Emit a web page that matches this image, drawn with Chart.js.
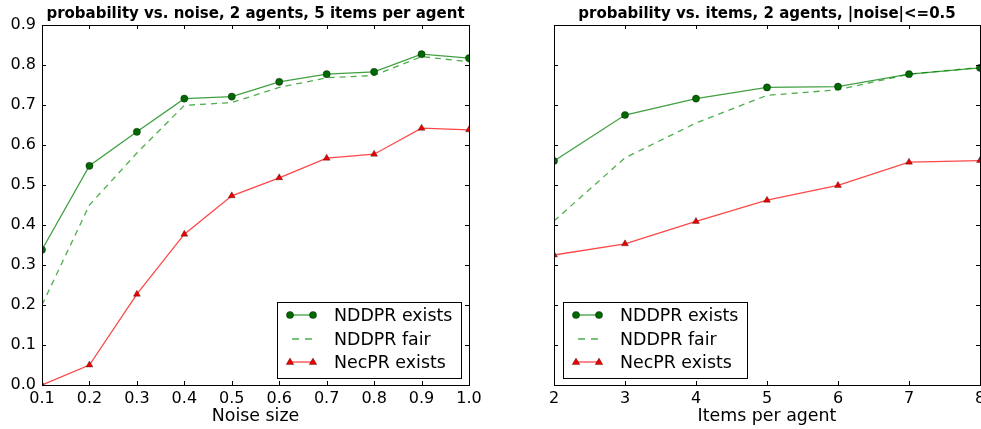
<!DOCTYPE html>
<html>
<head>
<meta charset="utf-8">
<script src="https://cdn.jsdelivr.net/npm/chart.js@4/dist/chart.umd.min.js"></script>
<style>
html,body{margin:0;padding:0;background:#fff;overflow:hidden;width:981px;height:429px;}
.wrap{position:absolute;top:0;height:429px;}
</style>
</head>
<body>
<div class="wrap" style="left:0;width:490px;"><canvas id="c1" width="490" height="429"></canvas></div>
<div class="wrap" style="left:490px;width:500px;"><canvas id="c2" width="500" height="429"></canvas></div>
<script>
// ---- data ----
const noiseSizes = [0.1,0.2,0.3,0.4,0.5,0.6,0.7,0.8,0.9,1.0];
const noiseNddprExists = [0.338,0.548,0.633,0.716,0.721,0.758,0.777,0.783,0.827,0.817];
const noiseNddprFair   = [0.200,0.450,0.580,0.699,0.706,0.744,0.768,0.774,0.821,0.808];
const noiseNecprExists = [0.000,0.050,0.227,0.377,0.473,0.518,0.567,0.577,0.642,0.638];

const itemsPerAgent = [2,3,4,5,6,7,8];
const itemsNddprExists = [0.560,0.675,0.716,0.744,0.746,0.777,0.793];
const itemsNddprFair   = [0.410,0.568,0.655,0.724,0.738,0.777,0.794];
const itemsNecprExists = [0.325,0.353,0.409,0.462,0.499,0.557,0.561];

const yTicks = [0.0,0.1,0.2,0.3,0.4,0.5,0.6,0.7,0.8,0.9];
const xTicksNoise = noiseSizes;
const xTicksItems = itemsPerAgent;

const seriesNames = ['NDDPR exists','NDDPR fair','NecPR exists'];
const leftTitle = 'probability vs. noise, 2 agents, 5 items per agent';
const rightTitle = 'probability vs. items, 2 agents, |noise|<=0.5';

const FONT = "'DejaVu Sans', 'Bitstream Vera Sans', sans-serif";

function pts(xs, ys){ return xs.map((x,i)=>({x:x,y:ys[i]})); }

function makeDatasets(xs, a, b, c){
  return [
    {label:seriesNames[0], data:pts(xs,a), borderColor:'rgba(0,128,0,0.75)', borderWidth:1.3,
     pointStyle:'circle', pointRadius:3.6, pointBackgroundColor:'#006a00', pointBorderColor:'rgba(0,0,0,0.6)', pointBorderWidth:0.6,
     tension:0, clip:0, fill:false},
    {label:seriesNames[1], data:pts(xs,b), borderColor:'rgba(0,140,0,0.7)', borderWidth:1.3, borderDash:[6,5],
     pointRadius:0, tension:0, clip:0, fill:false},
    {label:seriesNames[2], data:pts(xs,c), borderColor:'rgba(255,0,0,0.72)', borderWidth:1.3,
     pointStyle:'triangle', pointRadius:4, pointBackgroundColor:'#ee0000', pointBorderColor:'rgba(0,0,0,0.55)', pointBorderWidth:0.6,
     tension:0, clip:0, fill:false}
  ];
}

// frame, inward ticks, title and legend
function framePlugin(title, legendX){
  return {
    id:'frame',
    afterDraw(chart){
      const ctx = chart.ctx, a = chart.chartArea;
      const xs = chart.scales.x, ys = chart.scales.y;
      ctx.save();
      ctx.strokeStyle = '#000'; ctx.lineWidth = 1;
      ctx.strokeRect(Math.round(a.left)+0.5, Math.round(a.top)+0.5, Math.round(a.right-a.left), Math.round(a.bottom-a.top));
      const tl = 4;
      ctx.beginPath();
      xs.ticks.forEach(t=>{
        const px = Math.round(xs.getPixelForValue(t.value))+0.5;
        ctx.moveTo(px,a.top); ctx.lineTo(px,a.top+tl);
        ctx.moveTo(px,a.bottom); ctx.lineTo(px,a.bottom-tl);
      });
      ys.ticks.forEach(t=>{
        const py = Math.round(ys.getPixelForValue(t.value))+0.5;
        ctx.moveTo(a.left,py); ctx.lineTo(a.left+tl,py);
        ctx.moveTo(a.right,py); ctx.lineTo(a.right-tl,py);
      });
      ctx.stroke();
      // title
      ctx.fillStyle = '#000';
      ctx.font = 'bold 15px ' + FONT;
      ctx.textAlign = 'center'; ctx.textBaseline = 'middle';
      ctx.fillText(title, (a.left+a.right)/2, 14);
      // legend
      const bx = legendX, by = 302, bw = 184, bh = 76;
      ctx.fillStyle = '#fff';
      ctx.fillRect(bx+0.5, by+0.5, bw, bh);
      ctx.strokeStyle = '#000'; ctx.lineWidth = 1;
      ctx.strokeRect(bx+0.5, by+0.5, bw, bh);
      const rows = [315, 339, 362];
      chart.data.datasets.forEach((ds,i)=>{
        const y = rows[i];
        const x0 = bx+13, x1 = bx+36;
        ctx.save();
        ctx.strokeStyle = ds.borderColor; ctx.lineWidth = ds.borderWidth;
        if (ds.borderDash){ ctx.setLineDash([7,6]); ctx.lineDashOffset = -2; }
        ctx.beginPath(); ctx.moveTo(x0,y); ctx.lineTo(x1,y); ctx.stroke();
        ctx.restore();
        if (ds.pointRadius > 0){
          [x0,x1].forEach(px=>{
            ctx.save();
            ctx.fillStyle = ds.pointBackgroundColor; ctx.strokeStyle = ds.pointBorderColor; ctx.lineWidth = ds.pointBorderWidth;
            ctx.beginPath();
            const r = ds.pointRadius;
            if (ds.pointStyle === 'triangle'){
              ctx.moveTo(px, y - r*1.0);
              ctx.lineTo(px + r*0.95, y + r*0.65);
              ctx.lineTo(px - r*0.95, y + r*0.65);
              ctx.closePath();
            } else {
              ctx.arc(px, y, r, 0, Math.PI*2);
            }
            ctx.fill(); ctx.stroke();
            ctx.restore();
          });
        }
        ctx.fillStyle = '#000';
        ctx.font = '17.4px ' + FONT;
        ctx.textAlign = 'left'; ctx.textBaseline = 'middle';
        ctx.fillText(ds.label, bx+57, y+1);
      });
      ctx.restore();
    }
  };
}

function makeChart(id, xs, a, b, c, xTicks, xmin, xmax, xTitle, showY, yWidth, padRight, title, legendX, fmt){
  return new Chart(document.getElementById(id), {
    type:'line',
    data:{ datasets: makeDatasets(xs,a,b,c) },
    options:{
      responsive:false, animation:false, devicePixelRatio:1,
      layout:{ autoPadding:false, padding:{top:25, right:padRight, bottom:0, left:0} },
      plugins:{ legend:{display:false}, tooltip:{enabled:false}, title:{display:false} },
      elements:{ line:{ borderCapStyle:'butt' } },
      scales:{
        x:{ type:'linear', min:xmin, max:xmax,
            grid:{display:false, drawTicks:false}, border:{display:false},
            afterBuildTicks(s){ s.ticks = xTicks.map(v=>({value:v})); },
            afterFit(s){ s.height = 44; },
            ticks:{ padding:4, color:'#000', maxRotation:0, autoSkip:false,
                    font:{family:FONT, size:16}, callback:(v)=>fmt(v) },
            title:{ display:true, text:xTitle, color:'#000', font:{family:FONT, size:17.4}, padding:{top:0,bottom:2} } },
        y:{ type:'linear', min:0, max:0.9,
            grid:{display:false, drawTicks:false}, border:{display:false},
            afterBuildTicks(s){ s.ticks = yTicks.map(v=>({value:v})); },
            afterFit(s){ s.width = yWidth; },
            ticks:{ display:showY, padding:6, color:'#000', autoSkip:false,
                    font:{family:FONT, size:16}, callback:(v)=>Number(v).toFixed(1) } }
      }
    },
    plugins:[framePlugin(title, legendX)]
  });
}

makeChart('c1', noiseSizes, noiseNddprExists, noiseNddprFair, noiseNecprExists, xTicksNoise, 0.1, 1.0,
  'Noise size', true, 42, 21, leftTitle, 277, v=>Number(v).toFixed(1));
makeChart('c2', itemsPerAgent, itemsNddprExists, itemsNddprFair, itemsNecprExists, xTicksItems, 2, 8,
  'Items per agent', false, 64, 10, rightTitle, 73, v=>String(Math.round(v)));
</script>
</body>
</html>
